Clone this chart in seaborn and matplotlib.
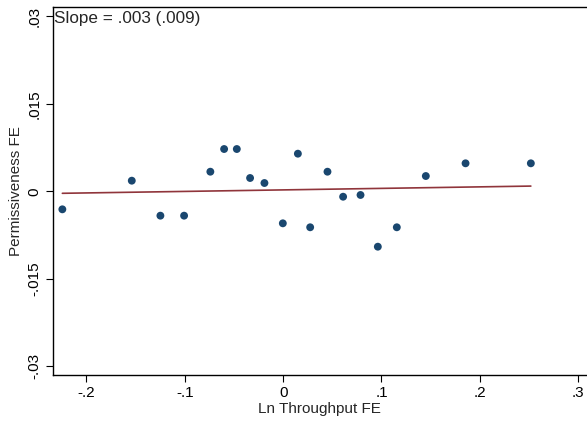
import matplotlib
matplotlib.use("Agg")
import matplotlib.pyplot as plt
import matplotlib.transforms as mtransforms
import seaborn as sns
import numpy as np
import pandas as pd

# Binned scatter data
ln_throughput_fe = [-0.2245, -0.1539, -0.1248, -0.1007, -0.0740, -0.0600, -0.0471,
                    -0.0336, -0.0190, -0.0003, 0.0150, 0.0275, 0.0451, 0.0610,
                    0.0787, 0.0963, 0.1156, 0.1451, 0.1855, 0.2519]
permissiveness_fe = [-0.00309, 0.00182, -0.00418, -0.00418, 0.00336, 0.00725, 0.00725,
                     0.00228, 0.00142, -0.00549, 0.00645, -0.00617, 0.00336, -0.00093,
                     -0.00063, -0.0095, -0.00617, 0.00262, 0.0048, 0.0048]

# Linear fit shown in the figure
fit_intercept = 0.00024
fit_slope = 0.0026

x_ticks = [-0.2, -0.1, 0, 0.1, 0.2, 0.3]
x_ticklabels = ["-.2", "-.1", "0", ".1", ".2", ".3"]
y_ticks = [-0.03, -0.015, 0, 0.015, 0.03]
y_ticklabels = ["-.03", "-.015", "0", ".015", ".03"]

sns.set_style("white")
plt.rcParams["font.family"] = ["Liberation Sans", "DejaVu Sans"]

df = pd.DataFrame({"x": ln_throughput_fe, "y": permissiveness_fe})
xs = np.array([min(ln_throughput_fe), max(ln_throughput_fe)])
fit_df = pd.DataFrame({"x": xs, "y": fit_intercept + fit_slope * xs})

fig = plt.figure(figsize=(5.87, 4.21), dpi=100)
ax = fig.add_axes([0.0898, 0.1086, 0.9102, 0.8754])

sns.lineplot(data=fit_df, x="x", y="y", ax=ax, color="#90353b", linewidth=1.2)
sns.scatterplot(data=df, x="x", y="y", ax=ax, color="#1a476f", s=32,
                edgecolor="none", zorder=3)

fs = 11
ax.set_xlim(-0.2343, 0.309)
ax.set_ylim(-0.03155, 0.03165)
ax.set_xticks(x_ticks)
ax.set_xticklabels(x_ticklabels)
ax.set_yticks(y_ticks)
ax.set_yticklabels(y_ticklabels, rotation=90, va="center")
ax.tick_params(axis="both", direction="out", length=5, width=0.8, labelsize=fs,
               colors="black", pad=3, bottom=True, left=True)
ax.set_xlabel("Ln Throughput FE", fontsize=fs, labelpad=1)
ax.set_ylabel("Permissiveness FE", fontsize=fs, labelpad=3)

for side in ["left", "bottom", "top"]:
    ax.spines[side].set_visible(True)
    ax.spines[side].set_color("black")
    ax.spines[side].set_linewidth(1.0)
ax.spines["right"].set_visible(False)

trans = mtransforms.blended_transform_factory(ax.transAxes, ax.transData)
ax.text(0.003, 0.0297, "Slope = .003 (.009)", fontsize=12.3, va="center", ha="left",
        transform=trans)

fig.savefig("out.png", dpi=100, facecolor="white")
